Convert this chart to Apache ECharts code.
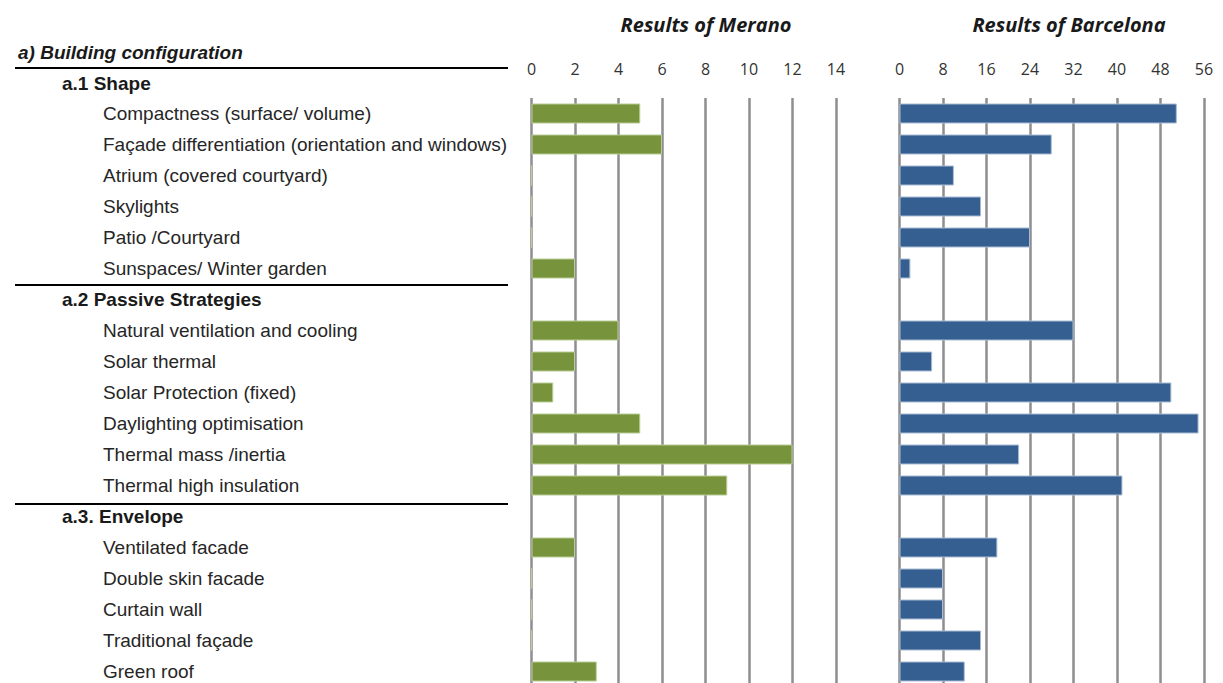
<!DOCTYPE html>
<html>
<head>
<meta charset="utf-8">
<script src="https://cdn.jsdelivr.net/npm/echarts@6/dist/echarts.min.js"></script>
<style>
  html, body { margin: 0; padding: 0; background: #fff; }
  #chart { width: 1223px; height: 683px; }
</style>
</head>
<body>
<div id="chart"></div>
<script>
// rows below "a.1 Shape"; section headers are empty rows
var categories = [
  'Compactness (surface/ volume)',
  'Façade differentiation (orientation and windows)',
  'Atrium (covered courtyard)',
  'Skylights',
  'Patio /Courtyard',
  'Sunspaces/ Winter garden',
  'a.2 Passive Strategies',
  'Natural ventilation and cooling',
  'Solar thermal',
  'Solar Protection (fixed)',
  'Daylighting optimisation',
  'Thermal mass /inertia',
  'Thermal high insulation',
  'a.3. Envelope',
  'Ventilated facade',
  'Double skin facade',
  'Curtain wall',
  'Traditional façade',
  'Green roof'
]
var headers = ['a.2 Passive Strategies', 'a.3. Envelope']

var meranoValues = [5, 6, 0, 0, 0, 2, null, 4, 2, 1, 5, 12, 9, null, 2, 0, 0, 0, 3]
var barcelonaValues = [51, 28, 10, 15, 24, 2, null, 32, 6, 50, 55, 22, 41, null, 18, 8, 8, 15, 12]

var meranoTicks = { min: 0, max: 14, interval: 2 }
var barcelonaTicks = { min: 0, max: 56, interval: 8 }

var chart = echarts.init(document.getElementById('chart'), null, { renderer: 'svg' })

var labelFont = '"Liberation Sans", Arial, sans-serif'
var tickFont = '"Open Sans", sans-serif'

function valueAxis (gridIndex, ticks) {
  return {
    type: 'value',
    gridIndex: gridIndex,
    position: 'top',
    min: ticks.min,
    max: ticks.max,
    interval: ticks.interval,
    axisLine: { show: false },
    axisTick: { show: false },
    axisLabel: {
      fontFamily: tickFont,
      fontSize: 16,
      color: '#333',
      margin: 21
    },
    splitLine: {
      lineStyle: { color: '#8e8e92', width: 2.5 }
    }
  }
}

function barSeries (idx, values, color, border) {
  return {
    type: 'bar',
    xAxisIndex: idx,
    yAxisIndex: idx,
    data: values,
    barWidth: 20,
    itemStyle: { color: color, borderColor: border, borderWidth: 1 }
  }
}

var titleStyle = { fontFamily: tickFont, fontSize: 20, fontStyle: 'italic', fontWeight: 'bold', color: '#1a1a1a' }

var option = {
  animation: false,
  backgroundColor: '#fff',
  title: [
    { text: 'Results of Merano', left: 701, top: 9, textAlign: 'center', textStyle: titleStyle },
    { text: 'Results of Barcelona', left: 1064, top: 9, textAlign: 'center', textStyle: titleStyle }
  ],
  grid: [
    { left: 531.5, top: 98, width: 304.5, height: 589, outerBoundsMode: 'none' },
    { left: 899.5, top: 98, width: 304.5, height: 589, outerBoundsMode: 'none' }
  ],
  xAxis: [valueAxis(0, meranoTicks), valueAxis(1, barcelonaTicks)],
  yAxis: [
    {
      type: 'category',
      gridIndex: 0,
      inverse: true,
      data: categories,
      axisLine: { show: false },
      axisTick: { show: false },
      axisLabel: {
        margin: 469.5,
        align: 'left',
        formatter: function (v) {
          return headers.indexOf(v) >= 0 ? '{h|' + v + '}' : '{i|' + v + '}'
        },
        rich: {
          h: { fontFamily: labelFont, fontSize: 19, lineHeight: 17, fontWeight: 'bold', color: '#1a1a1a' },
          i: { fontFamily: labelFont, fontSize: 19, lineHeight: 17, color: '#262626', padding: [0, 0, 0, 41] }
        }
      }
    },
    {
      type: 'category',
      gridIndex: 1,
      inverse: true,
      data: categories,
      axisLine: { show: false },
      axisTick: { show: false },
      axisLabel: { show: false }
    }
  ],
  series: [
    barSeries(0, meranoValues, '#77933C', '#b9cc95'),
    barSeries(1, barcelonaValues, '#355F91', '#a9bcd3')
  ],
  graphic: [
    {
      type: 'text',
      left: 18,
      top: 43,
      style: { text: 'a) Building configuration', font: 'italic bold 19px ' + labelFont, fill: '#1a1a1a' }
    },
    {
      type: 'text',
      left: 62,
      top: 74,
      style: { text: 'a.1 Shape', font: 'bold 19px ' + labelFont, fill: '#1a1a1a' }
    },
    { type: 'line', shape: { x1: 15, y1: 68, x2: 508, y2: 68 }, style: { stroke: '#000', lineWidth: 2 } },
    { type: 'line', shape: { x1: 15, y1: 285, x2: 508, y2: 285 }, style: { stroke: '#000', lineWidth: 2 } },
    { type: 'line', shape: { x1: 15, y1: 504, x2: 508, y2: 504 }, style: { stroke: '#000', lineWidth: 2 } }
  ]
}

chart.setOption(option)
</script>
</body>
</html>
